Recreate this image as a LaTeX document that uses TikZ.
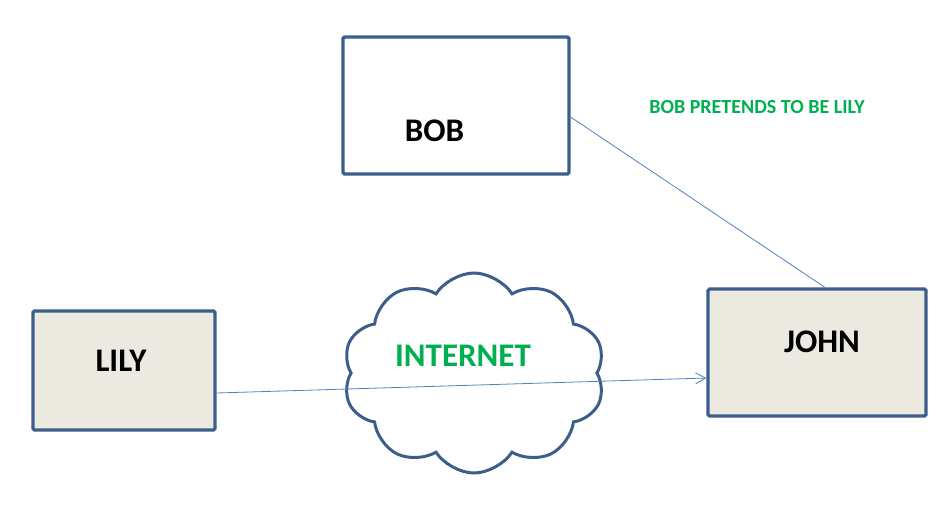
\documentclass[tikz,border=0pt]{standalone}
\usepackage{fontspec}
\setmainfont{Carlito}
\usetikzlibrary{arrows.meta,shapes.symbols}
\definecolor{BoxBlue}{RGB}{59,94,140}
\definecolor{BoxFill}{RGB}{236,234,224}
\definecolor{WireBlue}{RGB}{79,129,189}
\definecolor{TagGreen}{RGB}{0,176,80}

\tikzset{
    party/.style={draw=BoxBlue, line width=3.2pt, rounded corners=1.5pt, inner sep=0pt},
    who/.style={font=\fontsize{33}{36}\selectfont\bfseries, inner sep=0pt},
    wire/.style={WireBlue, line width=0.8pt}
}

\begin{document}
\begin{tikzpicture}[x=1pt, y=-1pt]
    \useasboundingbox (0,0) rectangle (941,507);

    % Boxes for the three people
    \node[party, fill=white, minimum width=226pt, minimum height=137pt] (bob) at (456,105.5) {};
    \node[party, fill=BoxFill, minimum width=182pt, minimum height=119pt] (lily) at (124,370.5) {};
    \node[party, fill=BoxFill, minimum width=218pt, minimum height=127pt] (john) at (817,352.5) {};

    % Cloud in the middle
    \node[cloud, cloud puffs=10, cloud puff arc=115, cloud ignores aspect,
          draw=BoxBlue, line width=3pt, minimum width=262pt, minimum height=200pt,
          inner sep=0pt] (net) at (474,373) {};

    % Names
    \node[who] (bobname) at (434.5,131) {BOB};
    \node[who] (lilyname) at (121,361) {LILY};
    \node[who] (johnname) at (822,342) {JOHN};
    \node[who, text=TagGreen] (netname) at (463,356) {INTERNET};
    \node[font=\fontsize{20}{24}\selectfont\bfseries, text=TagGreen, inner sep=0pt]
        (fake) at (757,107) {BOB PRETENDS TO BE LILY};

    % Connectors
    \draw[wire, -{Straight Barb[length=10pt, width=11pt, line width=0.8pt]}]
        ([yshift=-22.5pt]lily.east) -- ([yshift=-25.5pt]john.west);
    \draw[wire] ([yshift=-11.5pt]bob.east) -- ([xshift=8pt]john.north);
\end{tikzpicture}
\end{document}
